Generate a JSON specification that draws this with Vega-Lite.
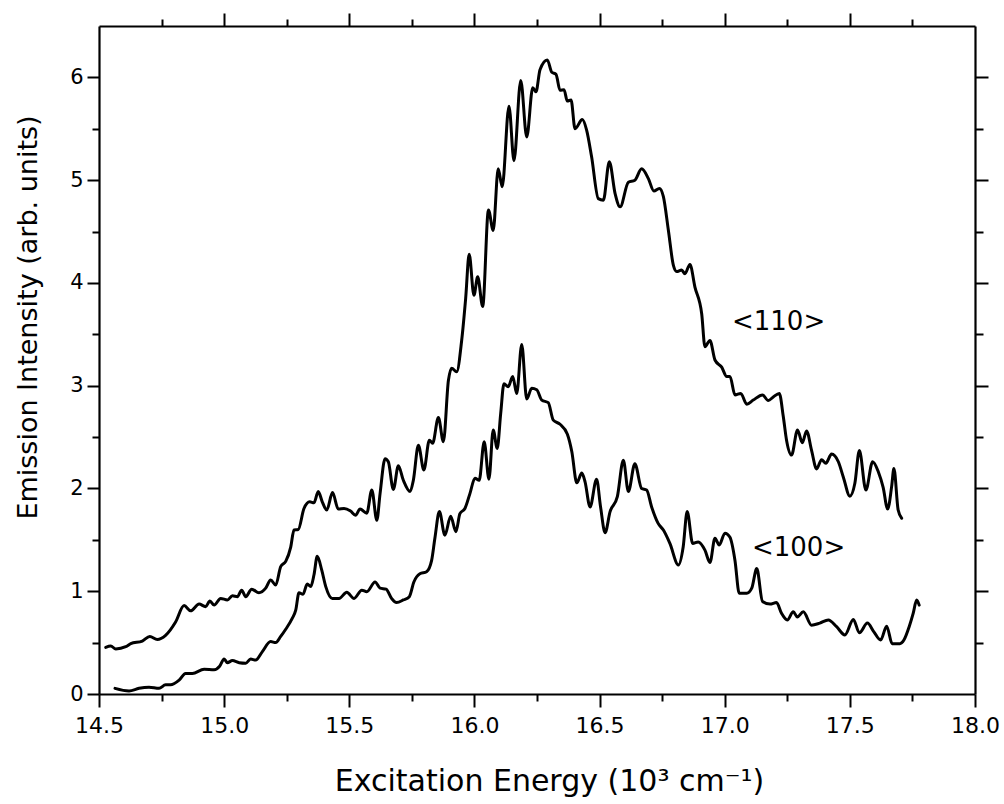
{
  "$schema": "https://vega.github.io/schema/vega-lite/v6.json",
  "width": 876,
  "height": 668,
  "autosize": {"type": "none"},
  "padding": {"left": 99, "top": 26, "right": 29, "bottom": 110},
  "background": "white",
  "config": {
    "view": {"stroke": null},
    "font": "DejaVu Sans",
    "axis": {
      "grid": false,
      "domainColor": "black",
      "domainWidth": 2.2,
      "tickColor": "black",
      "tickWidth": 2,
      "labelColor": "black",
      "labelFont": "DejaVu Sans",
      "titleFont": "DejaVu Sans",
      "titleColor": "black",
      "titleFontWeight": "normal",
      "labelFlush": false,
      "labelOverlap": false,
      "labelBound": false
    }
  },
  "datasets": {
    "curves": [
      {"series": "<110>", "energy": 14.527, "intensity": 0.454},
      {"series": "<110>", "energy": 14.547, "intensity": 0.467},
      {"series": "<110>", "energy": 14.567, "intensity": 0.438},
      {"series": "<110>", "energy": 14.607, "intensity": 0.46},
      {"series": "<110>", "energy": 14.627, "intensity": 0.49},
      {"series": "<110>", "energy": 14.673, "intensity": 0.515},
      {"series": "<110>", "energy": 14.703, "intensity": 0.56},
      {"series": "<110>", "energy": 14.733, "intensity": 0.53},
      {"series": "<110>", "energy": 14.766, "intensity": 0.57},
      {"series": "<110>", "energy": 14.806, "intensity": 0.7},
      {"series": "<110>", "energy": 14.84, "intensity": 0.86},
      {"series": "<110>", "energy": 14.866, "intensity": 0.81},
      {"series": "<110>", "energy": 14.9, "intensity": 0.875},
      {"series": "<110>", "energy": 14.926, "intensity": 0.85},
      {"series": "<110>", "energy": 14.943, "intensity": 0.905},
      {"series": "<110>", "energy": 14.96, "intensity": 0.865},
      {"series": "<110>", "energy": 14.986, "intensity": 0.93},
      {"series": "<110>", "energy": 15.013, "intensity": 0.915},
      {"series": "<110>", "energy": 15.033, "intensity": 0.955},
      {"series": "<110>", "energy": 15.053, "intensity": 0.947},
      {"series": "<110>", "energy": 15.07, "intensity": 1.01},
      {"series": "<110>", "energy": 15.086, "intensity": 0.947},
      {"series": "<110>", "energy": 15.11, "intensity": 1.02},
      {"series": "<110>", "energy": 15.139, "intensity": 0.985},
      {"series": "<110>", "energy": 15.166, "intensity": 1.03},
      {"series": "<110>", "energy": 15.186, "intensity": 1.11},
      {"series": "<110>", "energy": 15.206, "intensity": 1.06},
      {"series": "<110>", "energy": 15.226, "intensity": 1.24},
      {"series": "<110>", "energy": 15.246, "intensity": 1.29},
      {"series": "<110>", "energy": 15.266, "intensity": 1.43},
      {"series": "<110>", "energy": 15.279, "intensity": 1.595},
      {"series": "<110>", "energy": 15.296, "intensity": 1.6},
      {"series": "<110>", "energy": 15.319, "intensity": 1.805},
      {"series": "<110>", "energy": 15.342, "intensity": 1.87},
      {"series": "<110>", "energy": 15.359, "intensity": 1.86},
      {"series": "<110>", "energy": 15.376, "intensity": 1.97},
      {"series": "<110>", "energy": 15.392, "intensity": 1.87},
      {"series": "<110>", "energy": 15.41, "intensity": 1.79},
      {"series": "<110>", "energy": 15.433, "intensity": 1.96},
      {"series": "<110>", "energy": 15.456, "intensity": 1.8},
      {"series": "<110>", "energy": 15.479, "intensity": 1.805},
      {"series": "<110>", "energy": 15.505, "intensity": 1.78},
      {"series": "<110>", "energy": 15.525, "intensity": 1.74},
      {"series": "<110>", "energy": 15.543, "intensity": 1.8},
      {"series": "<110>", "energy": 15.57, "intensity": 1.76},
      {"series": "<110>", "energy": 15.59, "intensity": 1.985},
      {"series": "<110>", "energy": 15.61, "intensity": 1.69},
      {"series": "<110>", "energy": 15.623, "intensity": 1.95},
      {"series": "<110>", "energy": 15.643, "intensity": 2.29},
      {"series": "<110>", "energy": 15.656, "intensity": 2.26},
      {"series": "<110>", "energy": 15.676, "intensity": 1.99},
      {"series": "<110>", "energy": 15.696, "intensity": 2.22},
      {"series": "<110>", "energy": 15.716, "intensity": 2.08},
      {"series": "<110>", "energy": 15.743, "intensity": 1.97},
      {"series": "<110>", "energy": 15.756, "intensity": 2.08},
      {"series": "<110>", "energy": 15.776, "intensity": 2.42},
      {"series": "<110>", "energy": 15.798, "intensity": 2.18},
      {"series": "<110>", "energy": 15.82, "intensity": 2.47},
      {"series": "<110>", "energy": 15.833, "intensity": 2.44},
      {"series": "<110>", "energy": 15.856, "intensity": 2.69},
      {"series": "<110>", "energy": 15.876, "intensity": 2.455},
      {"series": "<110>", "energy": 15.896, "intensity": 3.05},
      {"series": "<110>", "energy": 15.909, "intensity": 3.17},
      {"series": "<110>", "energy": 15.929, "intensity": 3.135},
      {"series": "<110>", "energy": 15.949, "intensity": 3.44},
      {"series": "<110>", "energy": 15.965, "intensity": 3.85},
      {"series": "<110>", "energy": 15.979, "intensity": 4.28},
      {"series": "<110>", "energy": 15.998, "intensity": 3.88},
      {"series": "<110>", "energy": 16.013, "intensity": 4.06},
      {"series": "<110>", "energy": 16.033, "intensity": 3.77},
      {"series": "<110>", "energy": 16.056, "intensity": 4.71},
      {"series": "<110>", "energy": 16.075, "intensity": 4.51},
      {"series": "<110>", "energy": 16.095, "intensity": 5.11},
      {"series": "<110>", "energy": 16.111, "intensity": 4.935},
      {"series": "<110>", "energy": 16.138, "intensity": 5.72},
      {"series": "<110>", "energy": 16.158, "intensity": 5.19},
      {"series": "<110>", "energy": 16.185, "intensity": 5.97},
      {"series": "<110>", "energy": 16.209, "intensity": 5.42},
      {"series": "<110>", "energy": 16.233, "intensity": 5.9},
      {"series": "<110>", "energy": 16.246, "intensity": 5.86},
      {"series": "<110>", "energy": 16.262, "intensity": 6.075},
      {"series": "<110>", "energy": 16.291, "intensity": 6.17},
      {"series": "<110>", "energy": 16.309, "intensity": 6.05},
      {"series": "<110>", "energy": 16.326, "intensity": 6.03},
      {"series": "<110>", "energy": 16.342, "intensity": 5.875},
      {"series": "<110>", "energy": 16.358, "intensity": 5.88},
      {"series": "<110>", "energy": 16.371, "intensity": 5.77},
      {"series": "<110>", "energy": 16.386, "intensity": 5.78},
      {"series": "<110>", "energy": 16.402, "intensity": 5.5},
      {"series": "<110>", "energy": 16.431, "intensity": 5.59},
      {"series": "<110>", "energy": 16.448, "intensity": 5.49},
      {"series": "<110>", "energy": 16.468, "intensity": 5.23},
      {"series": "<110>", "energy": 16.495, "intensity": 4.82},
      {"series": "<110>", "energy": 16.515, "intensity": 4.805},
      {"series": "<110>", "energy": 16.539, "intensity": 5.18},
      {"series": "<110>", "energy": 16.562, "intensity": 4.87},
      {"series": "<110>", "energy": 16.582, "intensity": 4.74},
      {"series": "<110>", "energy": 16.615, "intensity": 4.98},
      {"series": "<110>", "energy": 16.641, "intensity": 5.0},
      {"series": "<110>", "energy": 16.668, "intensity": 5.11},
      {"series": "<110>", "energy": 16.695, "intensity": 5.015},
      {"series": "<110>", "energy": 16.717, "intensity": 4.895},
      {"series": "<110>", "energy": 16.739, "intensity": 4.92},
      {"series": "<110>", "energy": 16.755, "intensity": 4.84},
      {"series": "<110>", "energy": 16.775, "intensity": 4.51},
      {"series": "<110>", "energy": 16.795, "intensity": 4.17},
      {"series": "<110>", "energy": 16.808, "intensity": 4.11},
      {"series": "<110>", "energy": 16.828, "intensity": 4.125},
      {"series": "<110>", "energy": 16.841, "intensity": 4.09},
      {"series": "<110>", "energy": 16.861, "intensity": 4.18},
      {"series": "<110>", "energy": 16.881, "intensity": 3.96},
      {"series": "<110>", "energy": 16.908, "intensity": 3.7},
      {"series": "<110>", "energy": 16.921, "intensity": 3.38},
      {"series": "<110>", "energy": 16.941, "intensity": 3.44},
      {"series": "<110>", "energy": 16.961, "intensity": 3.25},
      {"series": "<110>", "energy": 16.988, "intensity": 3.18},
      {"series": "<110>", "energy": 17.008, "intensity": 3.09},
      {"series": "<110>", "energy": 17.021, "intensity": 3.09},
      {"series": "<110>", "energy": 17.041, "intensity": 2.91},
      {"series": "<110>", "energy": 17.064, "intensity": 2.925},
      {"series": "<110>", "energy": 17.088, "intensity": 2.82},
      {"series": "<110>", "energy": 17.114, "intensity": 2.86},
      {"series": "<110>", "energy": 17.151, "intensity": 2.91},
      {"series": "<110>", "energy": 17.174, "intensity": 2.855},
      {"series": "<110>", "energy": 17.194, "intensity": 2.89},
      {"series": "<110>", "energy": 17.218, "intensity": 2.925},
      {"series": "<110>", "energy": 17.234, "intensity": 2.7},
      {"series": "<110>", "energy": 17.247, "intensity": 2.47},
      {"series": "<110>", "energy": 17.267, "intensity": 2.325},
      {"series": "<110>", "energy": 17.291, "intensity": 2.57},
      {"series": "<110>", "energy": 17.31, "intensity": 2.445},
      {"series": "<110>", "energy": 17.327, "intensity": 2.56},
      {"series": "<110>", "energy": 17.347, "intensity": 2.37},
      {"series": "<110>", "energy": 17.367, "intensity": 2.19},
      {"series": "<110>", "energy": 17.387, "intensity": 2.28},
      {"series": "<110>", "energy": 17.404, "intensity": 2.245},
      {"series": "<110>", "energy": 17.427, "intensity": 2.335},
      {"series": "<110>", "energy": 17.454, "intensity": 2.26},
      {"series": "<110>", "energy": 17.474, "intensity": 2.11},
      {"series": "<110>", "energy": 17.5, "intensity": 1.925},
      {"series": "<110>", "energy": 17.52, "intensity": 2.05},
      {"series": "<110>", "energy": 17.538, "intensity": 2.37},
      {"series": "<110>", "energy": 17.564, "intensity": 1.985},
      {"series": "<110>", "energy": 17.591, "intensity": 2.26},
      {"series": "<110>", "energy": 17.614, "intensity": 2.16},
      {"series": "<110>", "energy": 17.633, "intensity": 2.01},
      {"series": "<110>", "energy": 17.651, "intensity": 1.8},
      {"series": "<110>", "energy": 17.667, "intensity": 2.02},
      {"series": "<110>", "energy": 17.676, "intensity": 2.195},
      {"series": "<110>", "energy": 17.693, "intensity": 1.79},
      {"series": "<110>", "energy": 17.707, "intensity": 1.71},
      {"series": "<100>", "energy": 14.564, "intensity": 0.055},
      {"series": "<100>", "energy": 14.62, "intensity": 0.03},
      {"series": "<100>", "energy": 14.66, "intensity": 0.055},
      {"series": "<100>", "energy": 14.7, "intensity": 0.065},
      {"series": "<100>", "energy": 14.74, "intensity": 0.055},
      {"series": "<100>", "energy": 14.766, "intensity": 0.09},
      {"series": "<100>", "energy": 14.786, "intensity": 0.09},
      {"series": "<100>", "energy": 14.82, "intensity": 0.135},
      {"series": "<100>", "energy": 14.846, "intensity": 0.2},
      {"series": "<100>", "energy": 14.873, "intensity": 0.2},
      {"series": "<100>", "energy": 14.92, "intensity": 0.24},
      {"series": "<100>", "energy": 14.96, "intensity": 0.235},
      {"series": "<100>", "energy": 14.982, "intensity": 0.27},
      {"series": "<100>", "energy": 15.0, "intensity": 0.34},
      {"series": "<100>", "energy": 15.013, "intensity": 0.305},
      {"series": "<100>", "energy": 15.033, "intensity": 0.325},
      {"series": "<100>", "energy": 15.06, "intensity": 0.305},
      {"series": "<100>", "energy": 15.086, "intensity": 0.3},
      {"series": "<100>", "energy": 15.106, "intensity": 0.34},
      {"series": "<100>", "energy": 15.126, "intensity": 0.33},
      {"series": "<100>", "energy": 15.152, "intensity": 0.41},
      {"series": "<100>", "energy": 15.186, "intensity": 0.51},
      {"series": "<100>", "energy": 15.206, "intensity": 0.5},
      {"series": "<100>", "energy": 15.226, "intensity": 0.56},
      {"series": "<100>", "energy": 15.246, "intensity": 0.63},
      {"series": "<100>", "energy": 15.272, "intensity": 0.735},
      {"series": "<100>", "energy": 15.286, "intensity": 0.815},
      {"series": "<100>", "energy": 15.299, "intensity": 0.985},
      {"series": "<100>", "energy": 15.315, "intensity": 0.97},
      {"series": "<100>", "energy": 15.332, "intensity": 1.07},
      {"series": "<100>", "energy": 15.346, "intensity": 1.045},
      {"series": "<100>", "energy": 15.359, "intensity": 1.16},
      {"series": "<100>", "energy": 15.372, "intensity": 1.34},
      {"series": "<100>", "energy": 15.39, "intensity": 1.205},
      {"series": "<100>", "energy": 15.406, "intensity": 1.045},
      {"series": "<100>", "energy": 15.432, "intensity": 0.93},
      {"series": "<100>", "energy": 15.459, "intensity": 0.93},
      {"series": "<100>", "energy": 15.49, "intensity": 0.99},
      {"series": "<100>", "energy": 15.519, "intensity": 0.93},
      {"series": "<100>", "energy": 15.55, "intensity": 1.01},
      {"series": "<100>", "energy": 15.57, "intensity": 0.995},
      {"series": "<100>", "energy": 15.603, "intensity": 1.09},
      {"series": "<100>", "energy": 15.623, "intensity": 1.03},
      {"series": "<100>", "energy": 15.647, "intensity": 1.02},
      {"series": "<100>", "energy": 15.669, "intensity": 0.93},
      {"series": "<100>", "energy": 15.689, "intensity": 0.89},
      {"series": "<100>", "energy": 15.716, "intensity": 0.915},
      {"series": "<100>", "energy": 15.74, "intensity": 0.947},
      {"series": "<100>", "energy": 15.758, "intensity": 1.09},
      {"series": "<100>", "energy": 15.782, "intensity": 1.17},
      {"series": "<100>", "energy": 15.809, "intensity": 1.19},
      {"series": "<100>", "energy": 15.829, "intensity": 1.3},
      {"series": "<100>", "energy": 15.842, "intensity": 1.515},
      {"series": "<100>", "energy": 15.86, "intensity": 1.775},
      {"series": "<100>", "energy": 15.882, "intensity": 1.545},
      {"series": "<100>", "energy": 15.905, "intensity": 1.73},
      {"series": "<100>", "energy": 15.926, "intensity": 1.58},
      {"series": "<100>", "energy": 15.942, "intensity": 1.755},
      {"series": "<100>", "energy": 15.962, "intensity": 1.805},
      {"series": "<100>", "energy": 15.982, "intensity": 1.95},
      {"series": "<100>", "energy": 16.002, "intensity": 2.1},
      {"series": "<100>", "energy": 16.019, "intensity": 2.08},
      {"series": "<100>", "energy": 16.039, "intensity": 2.455},
      {"series": "<100>", "energy": 16.058, "intensity": 2.09},
      {"series": "<100>", "energy": 16.075, "intensity": 2.57},
      {"series": "<100>", "energy": 16.091, "intensity": 2.39},
      {"series": "<100>", "energy": 16.105, "intensity": 2.73},
      {"series": "<100>", "energy": 16.118, "intensity": 3.02},
      {"series": "<100>", "energy": 16.135, "intensity": 2.99},
      {"series": "<100>", "energy": 16.153, "intensity": 3.09},
      {"series": "<100>", "energy": 16.169, "intensity": 2.925},
      {"series": "<100>", "energy": 16.189, "intensity": 3.4},
      {"series": "<100>", "energy": 16.209, "intensity": 2.87},
      {"series": "<100>", "energy": 16.229, "intensity": 2.975},
      {"series": "<100>", "energy": 16.249, "intensity": 2.96},
      {"series": "<100>", "energy": 16.269, "intensity": 2.86},
      {"series": "<100>", "energy": 16.295, "intensity": 2.835},
      {"series": "<100>", "energy": 16.315, "intensity": 2.665},
      {"series": "<100>", "energy": 16.342, "intensity": 2.625},
      {"series": "<100>", "energy": 16.371, "intensity": 2.53},
      {"series": "<100>", "energy": 16.389, "intensity": 2.36},
      {"series": "<100>", "energy": 16.409, "intensity": 2.055},
      {"series": "<100>", "energy": 16.429, "intensity": 2.15},
      {"series": "<100>", "energy": 16.442, "intensity": 2.065},
      {"series": "<100>", "energy": 16.462, "intensity": 1.82},
      {"series": "<100>", "energy": 16.488, "intensity": 2.09},
      {"series": "<100>", "energy": 16.504, "intensity": 1.82},
      {"series": "<100>", "energy": 16.522, "intensity": 1.57},
      {"series": "<100>", "energy": 16.542, "intensity": 1.775},
      {"series": "<100>", "energy": 16.571, "intensity": 1.92},
      {"series": "<100>", "energy": 16.595, "intensity": 2.275},
      {"series": "<100>", "energy": 16.615, "intensity": 1.97},
      {"series": "<100>", "energy": 16.641, "intensity": 2.24},
      {"series": "<100>", "energy": 16.668, "intensity": 2.0},
      {"series": "<100>", "energy": 16.688, "intensity": 1.985},
      {"series": "<100>", "energy": 16.708, "intensity": 1.82},
      {"series": "<100>", "energy": 16.734, "intensity": 1.66},
      {"series": "<100>", "energy": 16.755, "intensity": 1.595},
      {"series": "<100>", "energy": 16.781, "intensity": 1.465},
      {"series": "<100>", "energy": 16.815, "intensity": 1.255},
      {"series": "<100>", "energy": 16.834, "intensity": 1.43},
      {"series": "<100>", "energy": 16.85, "intensity": 1.775},
      {"series": "<100>", "energy": 16.872, "intensity": 1.465},
      {"series": "<100>", "energy": 16.894, "intensity": 1.48},
      {"series": "<100>", "energy": 16.921, "intensity": 1.4},
      {"series": "<100>", "energy": 16.941, "intensity": 1.28},
      {"series": "<100>", "energy": 16.961, "intensity": 1.515},
      {"series": "<100>", "energy": 16.978, "intensity": 1.45},
      {"series": "<100>", "energy": 17.001, "intensity": 1.565},
      {"series": "<100>", "energy": 17.021, "intensity": 1.525},
      {"series": "<100>", "energy": 17.041, "intensity": 1.3},
      {"series": "<100>", "energy": 17.058, "intensity": 0.98},
      {"series": "<100>", "energy": 17.088, "intensity": 0.98},
      {"series": "<100>", "energy": 17.108, "intensity": 1.03},
      {"series": "<100>", "energy": 17.128, "intensity": 1.22},
      {"series": "<100>", "energy": 17.151, "intensity": 0.9},
      {"series": "<100>", "energy": 17.181, "intensity": 0.875},
      {"series": "<100>", "energy": 17.207, "intensity": 0.89},
      {"series": "<100>", "energy": 17.227, "intensity": 0.785},
      {"series": "<100>", "energy": 17.25, "intensity": 0.72},
      {"series": "<100>", "energy": 17.274, "intensity": 0.8},
      {"series": "<100>", "energy": 17.29, "intensity": 0.75},
      {"series": "<100>", "energy": 17.314, "intensity": 0.8},
      {"series": "<100>", "energy": 17.347, "intensity": 0.67},
      {"series": "<100>", "energy": 17.38, "intensity": 0.69},
      {"series": "<100>", "energy": 17.414, "intensity": 0.72},
      {"series": "<100>", "energy": 17.447, "intensity": 0.655},
      {"series": "<100>", "energy": 17.48, "intensity": 0.575},
      {"series": "<100>", "energy": 17.514, "intensity": 0.725},
      {"series": "<100>", "energy": 17.538, "intensity": 0.595},
      {"series": "<100>", "energy": 17.57, "intensity": 0.69},
      {"series": "<100>", "energy": 17.596, "intensity": 0.605},
      {"series": "<100>", "energy": 17.623, "intensity": 0.525},
      {"series": "<100>", "energy": 17.647, "intensity": 0.66},
      {"series": "<100>", "energy": 17.669, "intensity": 0.49},
      {"series": "<100>", "energy": 17.7, "intensity": 0.49},
      {"series": "<100>", "energy": 17.716, "intensity": 0.525},
      {"series": "<100>", "energy": 17.737, "intensity": 0.655},
      {"series": "<100>", "energy": 17.753, "intensity": 0.785},
      {"series": "<100>", "energy": 17.767, "intensity": 0.915},
      {"series": "<100>", "energy": 17.777, "intensity": 0.865}
    ],
    "labels": [
      {"series": "<110>", "energy": 17.029, "intensity": 3.62},
      {"series": "<100>", "energy": 17.109, "intensity": 1.42}
    ],
    "anchor": [
      {"energy": 15.0, "intensity": 1.0}
    ]
  },
  "resolve": {"axis": {"x": "independent", "y": "independent"}},
  "layer": [
    {
      "data": {"name": "curves"},
      "mark": {"type": "line", "color": "black", "strokeWidth": 3, "interpolate": "monotone", "strokeJoin": "round", "strokeCap": "round"},
      "encoding": {
        "x": {
          "field": "energy", "type": "quantitative",
          "scale": {"domain": [14.5, 18.0], "nice": false, "zero": false},
          "axis": {
            "orient": "bottom",
            "values": [14.5, 15.0, 15.5, 16.0, 16.5, 17.0, 17.5, 18.0],
            "format": ".1f",
            "tickSize": 13,
            "labelPadding": 8,
            "labelFontSize": 22,
            "title": "Excitation Energy (10³ cm⁻¹)",
            "titleFontSize": 30,
            "titleX": 450,
            "titleY": 96,
            "titleAnchor": null,
            "titleAlign": "center",
            "titleBaseline": "alphabetic"
          }
        },
        "y": {
          "field": "intensity", "type": "quantitative",
          "scale": {"domain": [0, 6.5], "nice": false},
          "axis": {
            "orient": "left",
            "values": [0, 1, 2, 3, 4, 5, 6],
            "tickSize": 12,
            "labelPadding": 4,
            "labelFontSize": 21,
            "title": "Emission Intensity (arb. units)",
            "titleFontSize": 27,
            "titleAngle": 270,
            "titleX": -63,
            "titleY": 291,
            "titleAlign": "center",
            "titleBaseline": "alphabetic"
          }
        },
        "detail": {"field": "series", "type": "nominal"}
      }
    },
    {
      "data": {"name": "anchor"},
      "mark": {"type": "point", "opacity": 0},
      "encoding": {
        "x": {
          "field": "energy", "type": "quantitative",
          "scale": {"domain": [14.5, 18.0], "nice": false, "zero": false},
          "axis": {"orient": "bottom", "values": [14.75, 15.25, 15.75, 16.25, 16.75, 17.25, 17.75], "tickSize": 7, "labels": false, "domain": false, "title": null}
        },
        "y": {
          "field": "intensity", "type": "quantitative",
          "scale": {"domain": [0, 6.5], "nice": false},
          "axis": {"orient": "left", "values": [0.5, 1.5, 2.5, 3.5, 4.5, 5.5], "tickSize": 7, "labels": false, "domain": false, "title": null}
        }
      }
    },
    {
      "data": {"name": "anchor"},
      "mark": {"type": "point", "opacity": 0},
      "encoding": {
        "x": {
          "field": "energy", "type": "quantitative",
          "scale": {"domain": [14.5, 18.0], "nice": false, "zero": false},
          "axis": {"orient": "top", "values": [15.0, 15.5, 16.0, 16.5, 17.0, 17.5], "tickSize": 13, "labels": false, "domain": true, "title": null}
        },
        "y": {
          "field": "intensity", "type": "quantitative",
          "scale": {"domain": [0, 6.5], "nice": false},
          "axis": {"orient": "right", "values": [1, 2, 3, 4, 5, 6], "tickSize": 13, "labels": false, "domain": true, "title": null}
        }
      }
    },
    {
      "data": {"name": "anchor"},
      "mark": {"type": "point", "opacity": 0},
      "encoding": {
        "x": {
          "field": "energy", "type": "quantitative",
          "scale": {"domain": [14.5, 18.0], "nice": false, "zero": false},
          "axis": {"orient": "top", "values": [14.75, 15.25, 15.75, 16.25, 16.75, 17.25, 17.75], "tickSize": 7, "labels": false, "domain": false, "title": null}
        },
        "y": {
          "field": "intensity", "type": "quantitative",
          "scale": {"domain": [0, 6.5], "nice": false},
          "axis": {"orient": "right", "values": [0.5, 1.5, 2.5, 3.5, 4.5, 5.5], "tickSize": 8, "labels": false, "domain": false, "title": null}
        }
      }
    },
    {
      "data": {"name": "labels"},
      "mark": {"type": "text", "align": "left", "baseline": "middle", "fontSize": 26, "font": "DejaVu Sans", "color": "black"},
      "encoding": {
        "x": {"field": "energy", "type": "quantitative", "scale": {"domain": [14.5, 18.0], "nice": false, "zero": false}, "axis": null},
        "y": {"field": "intensity", "type": "quantitative", "scale": {"domain": [0, 6.5], "nice": false}, "axis": null},
        "text": {"field": "series", "type": "nominal"}
      }
    }
  ]
}
